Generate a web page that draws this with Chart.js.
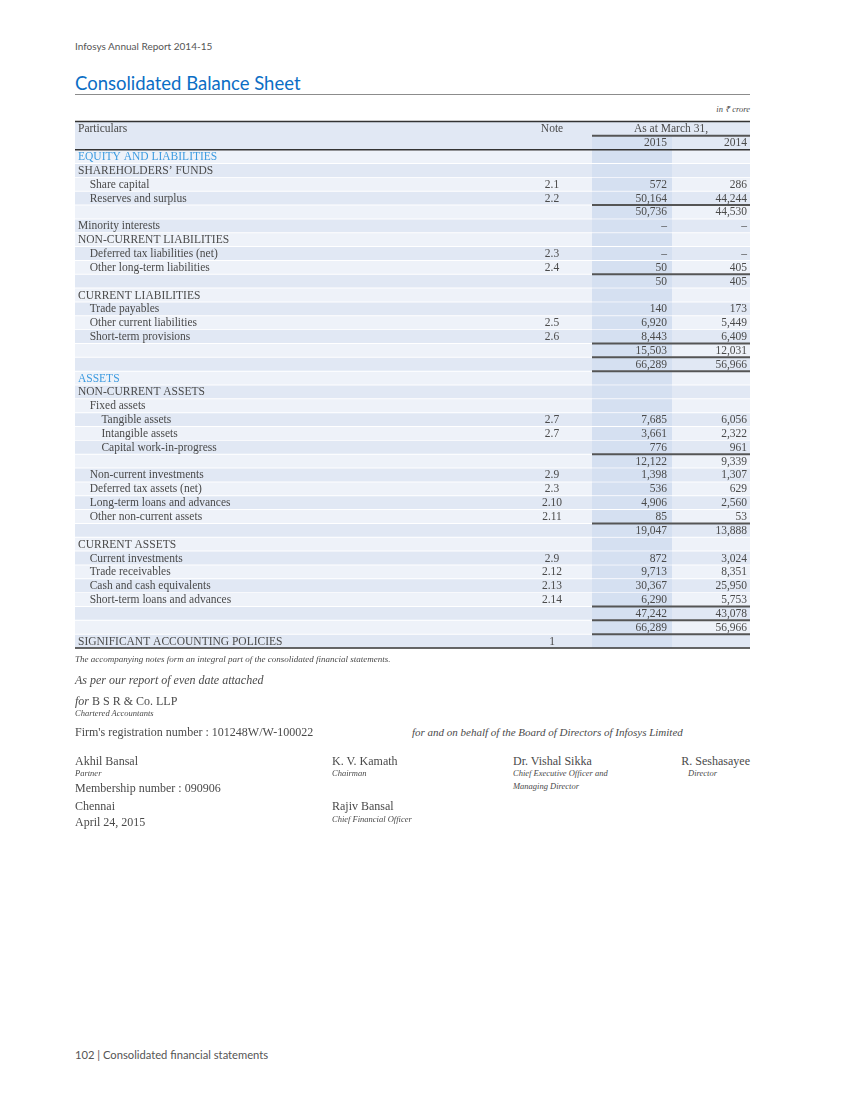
<!DOCTYPE html>
<html lang="en">
<head>
    <meta charset="UTF-8" />
    <title>Consolidated Balance Sheet</title>
    <style>
        * { margin: 0; padding: 0; box-sizing: border-box; }
        body {
            width: 850px;
            height: 1100px;
            position: relative;
            background: #fff;
            color: #4a4a4a;
            font-family: 'Liberation Serif', serif;
            font-size: 11.5px;
        }
        .t { position: absolute; white-space: nowrap; line-height: 14px; }
        .sans { font-family: Lato, sans-serif; font-size: 10px; color: #555; }
        .it { font-style: italic; }
        .small { font-size: 8.5px; }
        h1 {
            position: absolute; left: 75px; top: 71px;
            font: 18.5px Lato, sans-serif; line-height: 24px;
            color: #0b6ec5; font-weight: normal; white-space: nowrap;
        }
        .title-rule { position: absolute; left: 75px; top: 94px; width: 675px; border-top: 1.5px solid #8c8c8c; }
        #sheet { position: absolute; left: 75px; top: 112px; }
    </style>
</head>
<body>
    <div class="t sans" style="left:75px; top:39px;">Infosys Annual Report 2014-15</div>
    <h1>Consolidated Balance Sheet</h1>
    <div class="title-rule"></div>
    <div class="t it small" style="right:100px; top:102px;">in ₹ crore</div>

    <canvas id="sheet" width="675" height="546"></canvas>

    <div class="t it" style="left:75px; top:652px; font-size:9px;">The accompanying notes form an integral part of the consolidated financial statements.</div>
    <div class="t it" style="left:75px; top:673px; font-size:12px;">As per our report of even date attached</div>
    <div class="t" style="left:75px; top:694px; font-size:12px;"><i>for</i> B S R &amp; Co. LLP</div>
    <div class="t it small" style="left:75px; top:706px;">Chartered Accountants</div>
    <div class="t" style="left:75px; top:725px; font-size:12px;">Firm's registration number : 101248W/W-100022</div>
    <div class="t it" style="left:412px; top:725px; font-size:11px;">for and on behalf of the Board of Directors of Infosys Limited</div>

    <div class="t" style="left:75px; top:754px; font-size:12px;">Akhil Bansal</div>
    <div class="t it small" style="left:75px; top:766px;">Partner</div>
    <div class="t" style="left:75px; top:781px; font-size:12px;">Membership number : 090906</div>
    <div class="t" style="left:75px; top:799px; font-size:12px;">Chennai</div>
    <div class="t" style="left:75px; top:815px; font-size:12px;">April 24, 2015</div>

    <div class="t" style="left:332px; top:754px; font-size:12px;">K. V. Kamath</div>
    <div class="t it small" style="left:332px; top:766px;">Chairman</div>
    <div class="t" style="left:332px; top:799px; font-size:12px;">Rajiv Bansal</div>
    <div class="t it small" style="left:332px; top:812px;">Chief Financial Officer</div>

    <div class="t" style="left:513px; top:754px; font-size:12px;">Dr. Vishal Sikka</div>
    <div class="t it small" style="left:513px; top:766px;">Chief Executive Officer and</div>
    <div class="t it small" style="left:513px; top:779px;">Managing Director</div>

    <div class="t" style="right:100px; top:754px; font-size:12px;">R. Seshasayee</div>
    <div class="t it small" style="left:688px; top:766px;">Director</div>

    <div class="t sans" style="left:75px; top:1048px; font-size:11.2px;">102 | Consolidated financial statements</div>

    <script src="https://cdn.jsdelivr.net/npm/chart.js"></script>
    <script>
        // table rows (Particulars / Note / 2015 / 2014)
        const particulars = [
            'EQUITY AND LIABILITIES', 'SHAREHOLDERS’ FUNDS', 'Share capital', 'Reserves and surplus', '',
            'Minority interests', 'NON-CURRENT LIABILITIES', 'Deferred tax liabilities (net)', 'Other long-term liabilities', '',
            'CURRENT LIABILITIES', 'Trade payables', 'Other current liabilities', 'Short-term provisions', '', '',
            'ASSETS', 'NON-CURRENT ASSETS', 'Fixed assets', 'Tangible assets', 'Intangible assets', 'Capital work-in-progress', '',
            'Non-current investments', 'Deferred tax assets (net)', 'Long-term loans and advances', 'Other non-current assets', '',
            'CURRENT ASSETS', 'Current investments', 'Trade receivables', 'Cash and cash equivalents', 'Short-term loans and advances', '', '',
            'SIGNIFICANT ACCOUNTING POLICIES'
        ];
        const indentLevel = [0,0,1,1,0, 0,0,1,1,0, 0,1,1,1,0,0, 0,0,1,2,2,2,0, 1,1,1,1,0, 0,1,1,1,1,0,0, 0];
        const notes = ['', '', '2.1', '2.2', '', '', '', '2.3', '2.4', '', '', '', '2.5', '2.6', '', '',
            '', '', '', '2.7', '2.7', '', '', '2.9', '2.3', '2.10', '2.11', '', '', '2.9', '2.12', '2.13', '2.14', '', '', '1'];
        // 0 is printed as a dash
        const values2015 = [null, null, 572, 50164, 50736, 0, null, 0, 50, 50, null, 140, 6920, 8443, 15503, 66289,
            null, null, null, 7685, 3661, 776, 12122, 1398, 536, 4906, 85, 19047, null, 872, 9713, 30367, 6290, 47242, 66289, null];
        const values2014 = [null, null, 286, 44244, 44530, 0, null, 0, 405, 405, null, 173, 5449, 6409, 12031, 56966,
            null, null, null, 6056, 2322, 961, 9339, 1307, 629, 2560, 53, 13888, null, 3024, 8351, 25950, 5753, 43078, 56966, null];
        const sectionRows = [0, 16];
        const ruledRows = [3, 8, 13, 14, 15, 21, 26, 32, 33, 34];
        const headerLabels = ['Particulars', 'Note', 'As at March 31,', '2015', '2014'];

        // layout (table-relative px)
        const W = 675;
        const HEAD = 2;                    // two header lines above the body rows
        const noteX = 477;
        const col15 = [517, 597];
        const col14 = [597, 675];
        const INDENT = 11.7;
        const FONT = "11.5px 'Liberation Serif', serif";
        const TEXT = '#4a4a4a';
        const BLUE = '#3d9be0';

        const rowKeys = [];
        for (let i = 0; i < HEAD + particulars.length; i++) rowKeys.push('r' + i);
        const isBody = i => i >= HEAD;

        const fmt = v => v === 0 ? '–' : v.toLocaleString('en-IN');

        const tablePlugin = {
            id: 'tableText',
            afterDatasetsDraw(chart) {
                const { ctx, scales: { x, y } } = chart;
                const band = y.getPixelForValue(1) - y.getPixelForValue(0);
                const below = r => y.getPixelForValue(r) + band / 2;
                const rule = (x0, x1, yy, w, c) => {
                    ctx.beginPath();
                    ctx.lineWidth = w;
                    ctx.strokeStyle = c;
                    ctx.moveTo(x.getPixelForValue(x0), yy);
                    ctx.lineTo(x.getPixelForValue(x1), yy);
                    ctx.stroke();
                };
                ctx.save();
                ctx.font = FONT;
                ctx.textBaseline = 'middle';
                ctx.fillStyle = TEXT;

                // header
                const h0 = y.getPixelForValue(0) + 0.5, h1 = y.getPixelForValue(1) + 0.5;
                ctx.textAlign = 'left';
                ctx.fillText(headerLabels[0], x.getPixelForValue(3), h0);
                ctx.textAlign = 'center';
                ctx.fillText(headerLabels[1], x.getPixelForValue(noteX), h0);
                ctx.fillText(headerLabels[2], x.getPixelForValue((col15[0] + col14[1]) / 2), h0);
                ctx.textAlign = 'right';
                ctx.fillText(headerLabels[3], x.getPixelForValue(col15[1] - 5), h1);
                ctx.fillText(headerLabels[4], x.getPixelForValue(col14[1] - 3), h1);

                // body rows
                particulars.forEach((label, i) => {
                    const yy = y.getPixelForValue(i + HEAD) + 0.5;
                    ctx.fillStyle = sectionRows.includes(i) ? BLUE : TEXT;
                    ctx.textAlign = 'left';
                    ctx.fillText(label, x.getPixelForValue(3 + indentLevel[i] * INDENT), yy);
                    ctx.fillStyle = TEXT;
                    ctx.textAlign = 'center';
                    ctx.fillText(notes[i], x.getPixelForValue(noteX), yy);
                    ctx.textAlign = 'right';
                    if (values2015[i] !== null) ctx.fillText(fmt(values2015[i]), x.getPixelForValue(col15[1] - 5), yy);
                    if (values2014[i] !== null) ctx.fillText(fmt(values2014[i]), x.getPixelForValue(col14[1] - 3), yy);
                });

                // rules
                const top = y.getPixelForValue(0) - band / 2;
                rule(0, W, top - 0.5, 1.5, '#333');
                rule(col15[0], W, below(0), 2, '#555');
                rule(0, W, below(HEAD - 1), 1.5, '#333');
                ruledRows.forEach(r => rule(col15[0], W, below(r + HEAD), 2, '#555'));
                rule(0, W, below(HEAD + particulars.length - 1), 1.5, '#333');
                ctx.restore();
            }
        };

        const ctx = document.getElementById('sheet').getContext('2d');
        new Chart(ctx, {
            type: 'bar',
            data: {
                labels: rowKeys,
                datasets: [
                    {
                        label: '2015 column',
                        data: rowKeys.map((_, i) => i >= 1 ? col15 : null),
                        backgroundColor: '#d5e0f1',
                        barPercentage: 0.93,
                        order: 0
                    },
                    {
                        label: 'stripes',
                        data: rowKeys.map((_, i) => isBody(i) ? [0, W] : null),
                        backgroundColor: rowKeys.map((_, i) => (i - HEAD) % 2 === 0 ? '#eef2f9' : '#e1e8f4'),
                        barPercentage: 0.93,
                        order: 1
                    },
                    {
                        label: 'header',
                        data: rowKeys.map((_, i) => isBody(i) ? null : [0, W]),
                        backgroundColor: '#e1e8f4',
                        barPercentage: 1,
                        order: 2
                    }
                ]
            },
            options: {
                indexAxis: 'y',
                responsive: false,
                animation: false,
                devicePixelRatio: 1,
                layout: { padding: { top: 10, bottom: 10, left: 0, right: 0 } },
                datasets: { bar: { grouped: false, categoryPercentage: 1, borderWidth: 0 } },
                scales: {
                    x: { type: 'linear', min: 0, max: W, display: false },
                    y: { type: 'category', display: false }
                },
                plugins: {
                    legend: { display: false },
                    tooltip: { enabled: false }
                }
            },
            plugins: [tablePlugin]
        });
    </script>
</body>
</html>
